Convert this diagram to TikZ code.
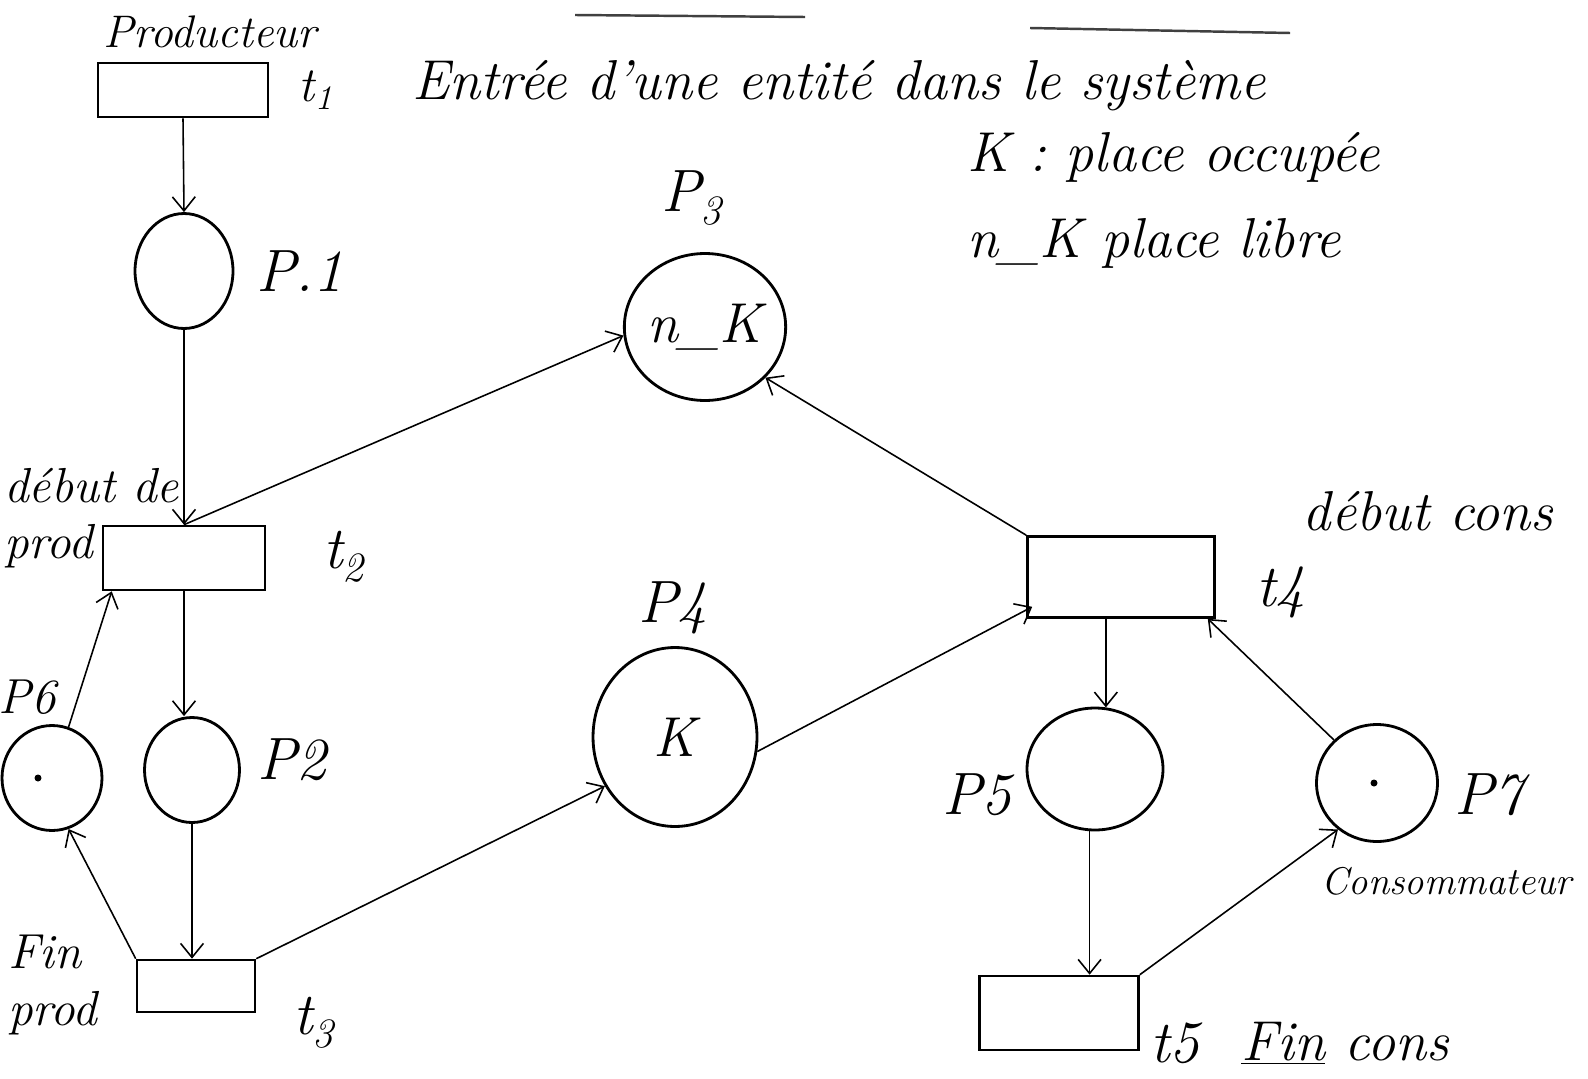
\documentclass[tikz,border=0pt]{standalone}
\usetikzlibrary{shapes.geometric,arrows.meta,calc}
\begin{document}
\begin{tikzpicture}[x=0.02cm,y=-0.02cm,
  place/.style={draw,ellipse,line width=1.6pt,inner sep=0pt},
  trans/.style={draw,rectangle,line width=1.5pt,inner sep=0pt},
  arc/.style={line width=0.9pt,-{Straight Barb[length=8pt,width=13pt,line width=0.9pt]}},
  lbl/.style={font=\fontsize{34}{38}\selectfont\itshape,inner sep=0pt},
  txt/.style={font=\fontsize{28}{32}\selectfont\itshape,inner sep=0pt},
  bigtxt/.style={font=\fontsize{32}{36}\selectfont\itshape,inner sep=0pt},
  inner/.style={font=\fontsize{32}{36}\selectfont\itshape,inner sep=0pt}]
\useasboundingbox[fill=white] (0,0) rectangle (1588,1078);

% underlines of the heading line
\draw[line width=1.4pt,black!75] (575,15) -- (805,17);
\draw[line width=1.4pt,black!75] (1030,28) -- (1290,33);

% transitions
\node[trans,minimum width=3.40cm,minimum height=1.08cm] (t1) at (183,90) {};
\node[trans,minimum width=3.24cm,minimum height=1.28cm] (t2) at (184,558) {};
\node[trans,minimum width=2.36cm,minimum height=1.04cm] (t3) at (196,986) {};
\node[trans,minimum width=3.74cm,minimum height=1.62cm] (t4) at (1121,577) {};
\node[trans,minimum width=3.18cm,minimum height=1.48cm] (t5) at (1059,1013) {};

% places
\node[place,minimum width=1.96cm,minimum height=2.30cm] (p1) at (184,271) {};
\node[place,minimum width=1.90cm,minimum height=2.10cm] (p2) at (192,770) {};
\node[place,minimum width=3.10cm,minimum height=2.94cm,inner] (p3) at (705,327) {n\_K};
\node[place,minimum width=3.28cm,minimum height=3.58cm,inner] (p4) at (675,737) {K};
\node[place,minimum width=2.72cm,minimum height=2.44cm] (p5) at (1095,769) {};
\node[place,minimum width=2.00cm,minimum height=2.10cm] (p6) at (52,778) {};
\node[place,minimum width=2.42cm,minimum height=2.34cm] (p7) at (1377,783) {};

% tokens
\fill (p6.center) ++(-14,0) circle (3.5);
\fill (p7.center) ++(-3,0) circle (3.5);

% arcs
\draw[arc] (t1.south) -- (p1.north);
\draw[arc] (p1.south) -- (t2.north);
\draw[arc] (t2.north) -- (p3.186);
\draw[arc] (t2.south) -- (t2.south |- p2.north);
\draw[arc] (p6.72) -- ($(t2.south west)+(10,0)$);
\draw[arc] (p2.south) -- (p2.south |- t3.north);
\draw[arc] (t3.north west) -- (p6.-72);
\draw[arc] (t3.north east) -- (p4.215);
\draw[arc] (p4.-10) -- ($(t4.south west)+(6,-12)$);
\draw[arc] (t4.north west) -- (p3.-40);
\draw[arc] (t4.south -| p5.80) -- (p5.80);
\draw[arc] (p5.-95) -- (p5.-95 |- t5.north);
\draw[arc] (t5.north east) -- (p7.230);
\draw[arc] (p7.135) -- ($(t4.south east)+(-8,0)$);

% labels
\node[font=\fontsize{26}{30}\selectfont\itshape,inner sep=0pt] (lprod) at (210,32) {Producteur};
\node[txt] (lt1) at (316,90) {t\textsubscript{1}};
\node[bigtxt,anchor=west] (lentree) at (412,86) {Entrée d'une entité dans le système};
\node[bigtxt,anchor=west] (lk) at (967,157) {K : place occupée};
\node[bigtxt,anchor=west] (lnk) at (967,243) {n\_K place libre};
\node[lbl] (lp1) at (300,271) {P.1};
\node[lbl] (lp3) at (692,198) {P\textsubscript{3}};
\node[txt,align=left,anchor=west] (ldeb) at (4,518) {début de\\prod};
\node[lbl] (lt2) at (344,557) {t\textsubscript{2}};
\node[lbl] (lp4) at (673,608) {P4};
\node[bigtxt] (ldebc) at (1428,511) {début cons};
\node[lbl] (lt4) at (1281,592) {t4};
\node[txt] (lp6) at (27,697) {P6};
\node[lbl] (lp2) at (292,760) {P2};
\node[lbl] (lp5) at (977,795) {P5};
\node[lbl] (lp7) at (1489,795) {P7};
\node[font=\fontsize{22}{26}\selectfont\itshape,inner sep=0pt,anchor=east] (lcons) at (1572,881) {Consommateur};
\node[txt,align=left,anchor=west] (lfin) at (8,985) {Fin\\prod};
\node[lbl] (lt3) at (314,1023) {t\textsubscript{3}};
\node[lbl] (lt5) at (1175,1043) {t5};
\node[bigtxt] (lfinc) at (1345,1043) {\underline{Fin} cons};
\end{tikzpicture}
\end{document}
